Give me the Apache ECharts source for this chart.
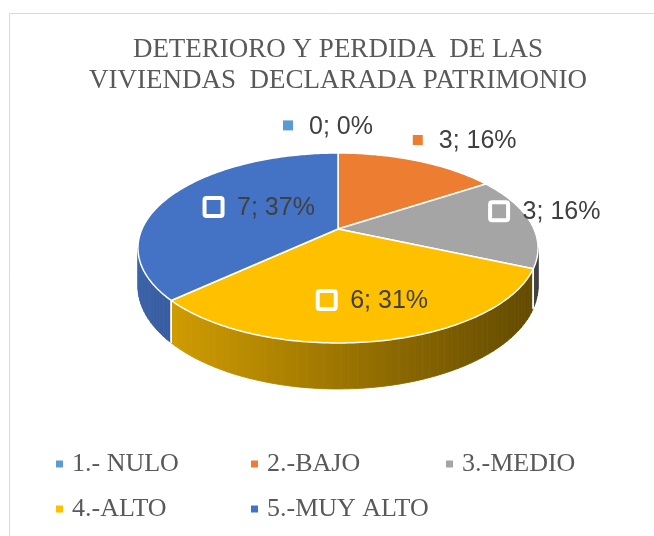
<!DOCTYPE html>
<html><head><meta charset="utf-8">
<script src="https://cdn.jsdelivr.net/npm/echarts/dist/echarts.min.js"></script>
<style>html,body{margin:0;padding:0;background:#fff}#c{width:654px;height:536px}</style>
</head><body><div id="c"></div>
<script>
// ---- data ----
const categories = ['1.- NULO', '2.-BAJO', '3.-MEDIO', '4.-ALTO', '5.-MUY ALTO'];
const values = [0, 3, 3, 6, 7];
const percents = [0, 16, 16, 31, 37];
const titleLines = ['DETERIORO Y PERDIDA  DE LAS', 'VIVIENDAS  DECLARADA PATRIMONIO'];

// ---- styles ----
const colors = ['#5B9BD5', '#ED7D31', '#A5A5A5', '#FFC000', '#4472C4'];
const serif = 'Liberation Serif';
const labelLayout = [
  {r: 1.3,  dx: -29, dy: -8, inside: false},
  {r: 1.35, dx: -1,  dy: 0,  inside: false},
  {r: 1.05, dx: -17, dy: -9, inside: true},
  {r: 0.7,  dx: -14, dy: -1, inside: true},
  {r: 0.45, dx: -23, dy: -5, inside: true}
];
const P = {cx: 338, cy: 229, a: 196, b: 91.2, k: 0.2, depth: 36.8};
const VIS0 = 101.5, VIS1 = 258.5;

const total = values.reduce((s, v) => s + v, 0);
const starts = [];
let acc = 0;
values.forEach(v => { starts.push(acc); acc += v; });

function proj(r, deg) {
  const t = deg * Math.PI / 180;
  const u = r * Math.sin(t), w = -r * Math.cos(t);
  const s = 1 / (1 - P.k * w);
  return [P.cx + P.a * u * s, P.cy + P.b * w * s, s];
}
function shade(hex, f) {
  const n = parseInt(hex.slice(1), 16);
  const r = (n >> 16) & 255, g = (n >> 8) & 255, b = n & 255;
  return 'rgb(' + Math.round(r * f) + ',' + Math.round(g * f) + ',' + Math.round(b * f) + ')';
}

function renderItem(params, api) {
  const i = params.seriesIndex;
  const v = api.value(0);
  const a0 = starts[i] / total * 360, a1 = (starts[i] + v) / total * 360;
  const col = colors[i];
  const children = [];
  if (v > 0) {
    const c = proj(0, 0);
    const pts = [[c[0], c[1]]];
    const n = Math.max(2, Math.ceil(a1 - a0));
    for (let j = 0; j <= n; j++) {
      const p = proj(1, a0 + (a1 - a0) * j / n);
      pts.push([p[0], p[1]]);
    }
    children.push({type: 'polygon', z2: 10, shape: {points: pts},
      style: {fill: col, stroke: '#fff', lineWidth: 1.5, lineJoin: 'round'}});
    const w0 = Math.max(a0, VIS0), w1 = Math.min(a1, VIS1);
    if (w1 > w0) {
      const grad = new echarts.graphic.LinearGradient(P.cx - 200, 0, P.cx + 200, 0,
        [{offset: 0, color: shade(col, 0.85)}, {offset: 1, color: shade(col, 0.38)}], true);
      const m = Math.max(1, Math.ceil((w1 - w0) / 2));
      for (let j = 0; j < m; j++) {
        const p1 = proj(1, w0 + (w1 - w0) * j / m), p2 = proj(1, w0 + (w1 - w0) * (j + 1) / m);
        children.push({type: 'polygon', z2: 0, shape: {points: [
          [p1[0], p1[1]], [p2[0], p2[1]],
          [p2[0], p2[1] + P.depth * p2[2]], [p1[0], p1[1] + P.depth * p1[2]]]},
          style: {fill: grad, stroke: grad, lineWidth: 0.8}});
      }
      [a0, a1].forEach(ang => {
        if (ang > VIS0 && ang < VIS1) {
          const p = proj(1, ang);
          children.push({type: 'line', z2: 5, shape: {x1: p[0], y1: p[1], x2: p[0], y2: p[1] + P.depth * p[2]},
            style: {stroke: '#fff', lineWidth: 1.5}});
        }
      });
    }
  }
  const L = labelLayout[i];
  const mid = (a0 + a1) / 2;
  const lp = proj(L.r, mid);
  const tx = lp[0] + L.dx, ty = lp[1] + L.dy;
  if (L.inside) {
    children.push({type: 'rect', z2: 20, shape: {x: tx - 23.5 - 9, y: ty - 1 - 9, width: 18, height: 18, r: 2},
      style: {fill: col, stroke: '#fff', lineWidth: 4}});
  } else {
    children.push({type: 'rect', z2: 20, shape: {x: tx - 21 - 5, y: ty - 1.5 - 5, width: 10, height: 10},
      style: {fill: col}});
  }
  children.push({type: 'text', z2: 20, x: tx, y: ty, style: {
    text: v + '; ' + percents[i] + '%', fill: '#404040', font: '25px "Liberation Sans"',
    align: 'left', verticalAlign: 'middle', textAlign: 'left', textVerticalAlign: 'middle'}});
  return {type: 'group', children: children};
}

const chart = echarts.init(document.getElementById('c'), null, {renderer: 'canvas'});
chart.setOption({
  animation: false,
  color: colors,
  textStyle: {fontFamily: serif},
  legend: {
    data: categories, left: 56, top: 451, width: 600, orient: 'horizontal', icon: 'rect',
    itemWidth: 7, itemHeight: 7, itemGap: 19, padding: 0, selectedMode: false,
    textStyle: {fontFamily: serif, fontSize: 26, color: '#595959', width: 160, lineHeight: 25, padding: [0, 0, 0, 4]}
  },
  graphic: [
    {type: 'rect', silent: true, z: -1,
      shape: {x: 9.5, y: 13.5, width: 700, height: 700},
      style: {fill: 'none', stroke: '#d9d9d9', lineWidth: 1}},
    {type: 'text', silent: true, x: 338, y: 50,
      style: {text: titleLines[0], font: 'normal 27px "Liberation Serif", serif', fill: '#595959',
        align: 'center', verticalAlign: 'middle', textAlign: 'center', textVerticalAlign: 'middle'}},
    {type: 'text', silent: true, x: 338, y: 81,
      style: {text: titleLines[1], font: 'normal 27px "Liberation Serif", serif', fill: '#595959',
        align: 'center', verticalAlign: 'middle', textAlign: 'center', textVerticalAlign: 'middle'}}
  ],
  series: categories.map((name, i) => ({
    type: 'custom', name: name, coordinateSystem: 'none', silent: true,
    itemStyle: {color: colors[i]},
    data: [[values[i]]], renderItem: renderItem
  }))
});
</script>
</body></html>
